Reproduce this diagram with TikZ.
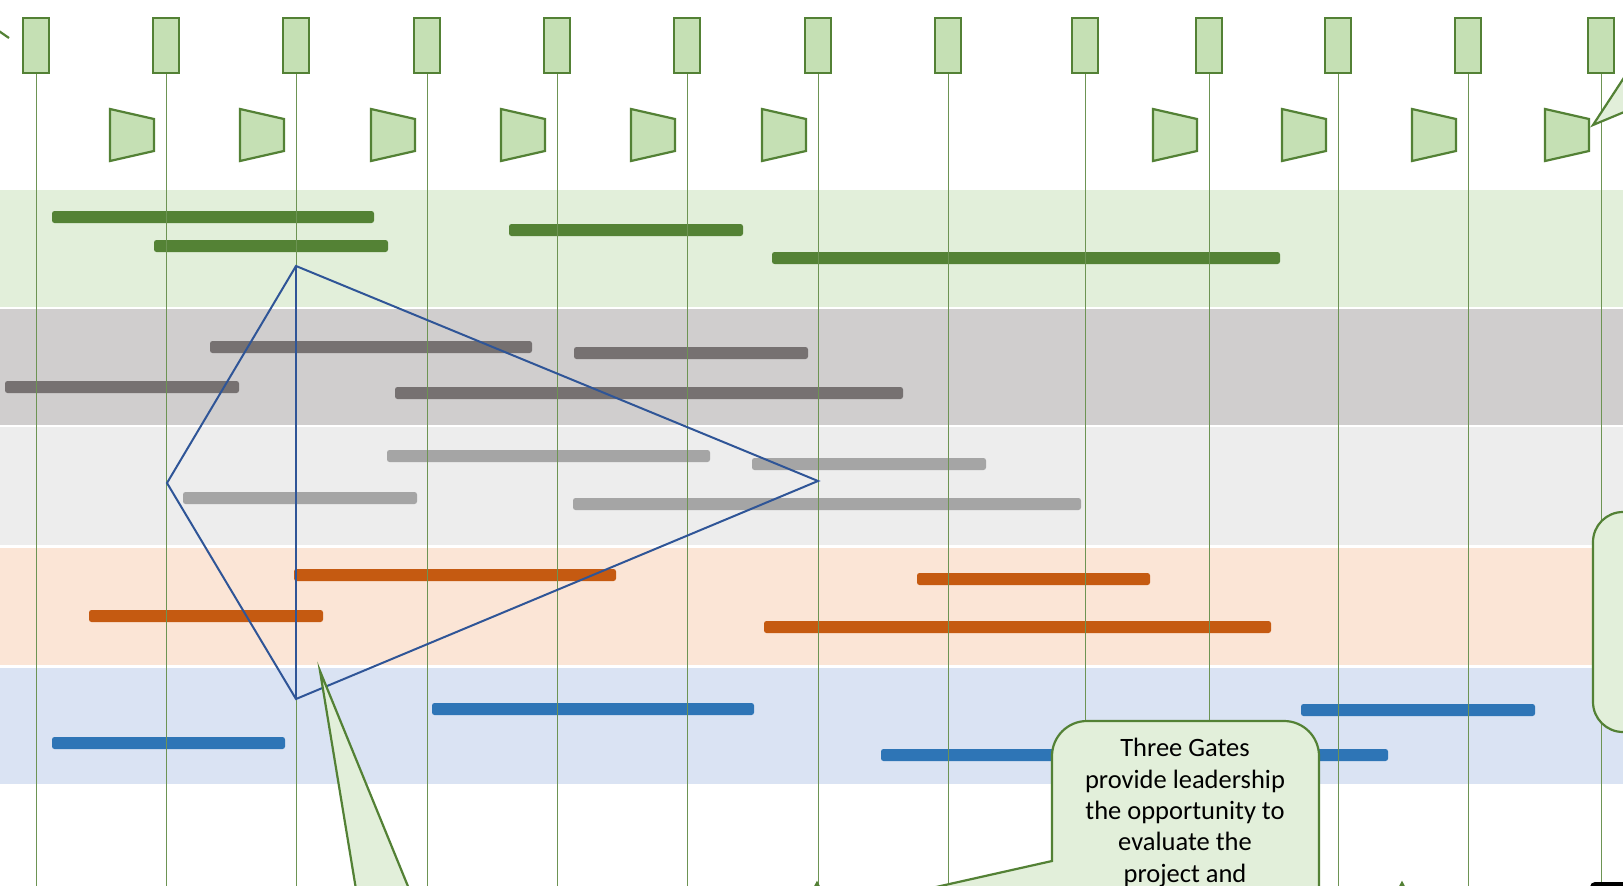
\documentclass[tikz,border=0pt]{standalone}
\usepackage{fontspec}
\setmainfont{Carlito}
\definecolor{bandgreen}{HTML}{E2EFDA}
\definecolor{bandgray}{HTML}{D0CECE}
\definecolor{bandlight}{HTML}{EDEDED}
\definecolor{bandorange}{HTML}{FBE5D6}
\definecolor{bandblue}{HTML}{DAE3F3}
\definecolor{bargreen}{HTML}{548235}
\definecolor{bardark}{HTML}{767171}
\definecolor{barlight}{HTML}{A5A5A5}
\definecolor{barorange}{HTML}{C55A11}
\definecolor{barblue}{HTML}{2E75B6}
\definecolor{kiteblue}{HTML}{2F5597}
\definecolor{gatestroke}{HTML}{538135}
\definecolor{gatefill}{HTML}{C5E0B4}
\definecolor{notefill}{HTML}{E2EFDA}
\begin{document}
\begin{tikzpicture}[x=1pt,y=-1pt,
  taskbar/.style={rounded corners=2.5pt},
  vline/.style={draw=gatestroke!85, line width=0.9pt},
  gatebox/.style={draw=gatestroke, fill=gatefill, line width=2.2pt},
  flagshape/.style={draw=gatestroke, fill=gatefill, line width=2.2pt, line join=miter},
  note/.style={draw=gatestroke, fill=notefill, line width=2.2pt, line join=miter},
  kite/.style={draw=kiteblue, line width=2pt, line join=miter},
  notetext/.style={font=\fontsize{26.5}{31.4}\selectfont, align=center, inner sep=0pt}]
\useasboundingbox (0,0) rectangle (1623,886);
\clip (0,0) rectangle (1623,886);
\fill[white] (0,0) rectangle (1623,886);

% swim lanes
\fill[bandgreen]  (0,190) rectangle (1623,307);
\fill[bandgray]   (0,309) rectangle (1623,425);
\fill[bandlight]  (0,427) rectangle (1623,545);
\fill[bandorange] (0,548) rectangle (1623,665);
\fill[bandblue]   (0,668) rectangle (1623,784);

% task bars: x start / x end / y centre
\foreach \a/\b/\y in {52/374/217, 154/388/246, 509/743/230, 772/1280/258}
  \fill[bargreen, taskbar] (\a,\y-6) rectangle (\b,\y+6);
\foreach \a/\b/\y in {210/532/347, 5/239/387, 574/808/353, 395/903/393}
  \fill[bardark, taskbar] (\a,\y-6) rectangle (\b,\y+6);
\foreach \a/\b/\y in {387/710/456, 183/417/498, 752/986/464, 573/1081/504}
  \fill[barlight, taskbar] (\a,\y-6) rectangle (\b,\y+6);
\foreach \a/\b/\y in {294/616/575, 89/323/616, 917/1150/579, 764/1271/627}
  \fill[barorange, taskbar] (\a,\y-6) rectangle (\b,\y+6);
\foreach \a/\b/\y in {432/754/709, 52/285/743, 1301/1535/710, 881/1388/755}
  \fill[barblue, taskbar] (\a,\y-6) rectangle (\b,\y+6);

% time lines
\foreach \x in {36,166,296,427,557,687,818,948,1085,1209,1338,1468,1601}
  \draw[vline] (\x,73) -- (\x,890);

% kite outline
\coordinate (kt) at (296,266);
\coordinate (kl) at (167,483);
\coordinate (kr) at (818,481);
\coordinate (kb) at (296,699);
\draw[kite] (kt) -- (kl) -- (kb) -- (kr) -- cycle;
\draw[kite] (kt) -- (kb);

% header boxes on the time lines
\foreach \x in {36,166,296,427,557,687,818,948,1085,1209,1338,1468,1601}
  \draw[gatebox] ({\x-13},18) rectangle ({\x+13},73);

% flags
\foreach \x in {166,296,427,557,687,818,1209,1338,1468,1601}
  \draw[flagshape] ({\x-56},109) -- ({\x-12},119) -- ({\x-12},151) -- ({\x-56},161) -- cycle;

% call-out pointers and boxes
\draw[note] (-20,18) -- (9,38);
\draw[note] (1665,15) -- (1593,125) -- (1665,95);
\draw[note] (366,950) -- (320,671) -- (434,950);
\draw[note] (1700,512) -- (1623,512) arc (270:180:30) -- (1593,702) arc (180:90:30) -- (1700,732);
\draw[note] (1052,930) -- (700,940) -- (1052,861) -- (1052,756) arc (180:270:35)
  -- (1284,721) arc (270:360:35) -- (1319,1000) -- (1052,1000) -- cycle;
\node[notetext, anchor=north] (gates) at (1185,738)
  {Three Gates\\provide leadership\\the opportunity to\\evaluate the\\project and};

% shapes entering from below
\draw[flagshape] (808,900) -- (817,883) -- (826,900);
\draw[flagshape] (1393,900) -- (1402,883) -- (1411,900);
\fill[black, rounded corners=5pt] (1590,882) rectangle (1680,930);
\end{tikzpicture}
\end{document}
